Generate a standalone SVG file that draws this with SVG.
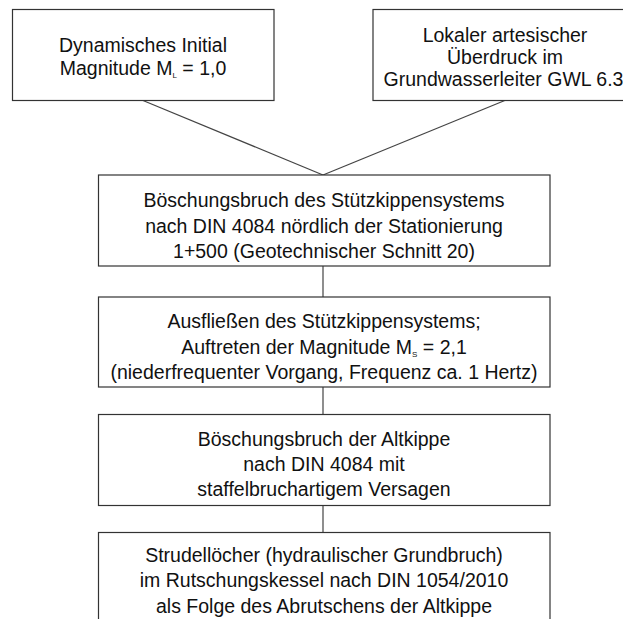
<svg xmlns="http://www.w3.org/2000/svg" width="623" height="619" viewBox="0 0 623 619">
<style>
.box{fill:#fff;stroke:#333;stroke-width:1.2}
.t{font-family:"Liberation Sans",Arial,sans-serif;font-size:19.5px;fill:#111;text-anchor:middle}
.sub{font-size:8px}
.con{stroke:#444;stroke-width:1.2;fill:none}
</style>
<rect width="623" height="619" fill="#fff"/>
<g id="connectors">
<line class="con" x1="143" y1="100.5" x2="323" y2="175"/>
<line class="con" x1="506" y1="100" x2="323" y2="175"/>
<line class="con" x1="323" y1="266" x2="323" y2="297"/>
<line class="con" x1="323" y1="387" x2="323" y2="414"/>
<line class="con" x1="323" y1="505" x2="323" y2="532"/>
</g>
<g id="n1">
<rect class="box" x="12.5" y="9.5" width="261.5" height="91"/>
<text class="t" x="143" y="51.5">Dynamisches Initial</text>
<text class="t" x="143" y="75">Magnitude M<tspan class="sub" dy="3">L</tspan><tspan dy="-3"> = 1,0</tspan></text>
</g>
<g id="n2">
<rect class="box" x="373" y="9.5" width="266" height="91"/>
<text class="t" x="505" y="41.5">Lokaler artesischer</text>
<text class="t" x="505" y="63.5">Überdruck im</text>
<text class="t" x="503.5" y="85.5">Grundwasserleiter GWL 6.3</text>
</g>
<g id="n3">
<rect class="box" x="98.5" y="175" width="451.5" height="91"/>
<text class="t" x="324" y="207">Böschungsbruch des Stützkippensystems</text>
<text class="t" x="324" y="232.5">nach DIN 4084 nördlich der Stationierung</text>
<text class="t" x="324" y="258">1+500 (Geotechnischer Schnitt 20)</text>
</g>
<g id="n4">
<rect class="box" x="98.5" y="297" width="451.5" height="90"/>
<text class="t" x="324" y="327.5">Ausfließen des Stützkippensystems;</text>
<text class="t" x="324" y="353.5">Auftreten der Magnitude M<tspan class="sub" dy="3">S</tspan><tspan dy="-3"> = 2,1</tspan></text>
<text class="t" x="324" y="378.5">(niederfrequenter Vorgang, Frequenz ca. 1 Hertz)</text>
</g>
<g id="n5">
<rect class="box" x="98.5" y="414.5" width="451.5" height="91"/>
<text class="t" x="324" y="445.5">Böschungsbruch der Altkippe</text>
<text class="t" x="324" y="471">nach DIN 4084 mit</text>
<text class="t" x="324" y="496">staffelbruchartigem Versagen</text>
</g>
<g id="n6">
<rect class="box" x="98.5" y="532.5" width="451.5" height="100"/>
<text class="t" x="324" y="561.5">Strudellöcher (hydraulischer Grundbruch)</text>
<text class="t" x="324" y="587">im Rutschungskessel nach DIN 1054/2010</text>
<text class="t" x="324" y="612.5">als Folge des Abrutschens der Altkippe</text>
</g>
</svg>
